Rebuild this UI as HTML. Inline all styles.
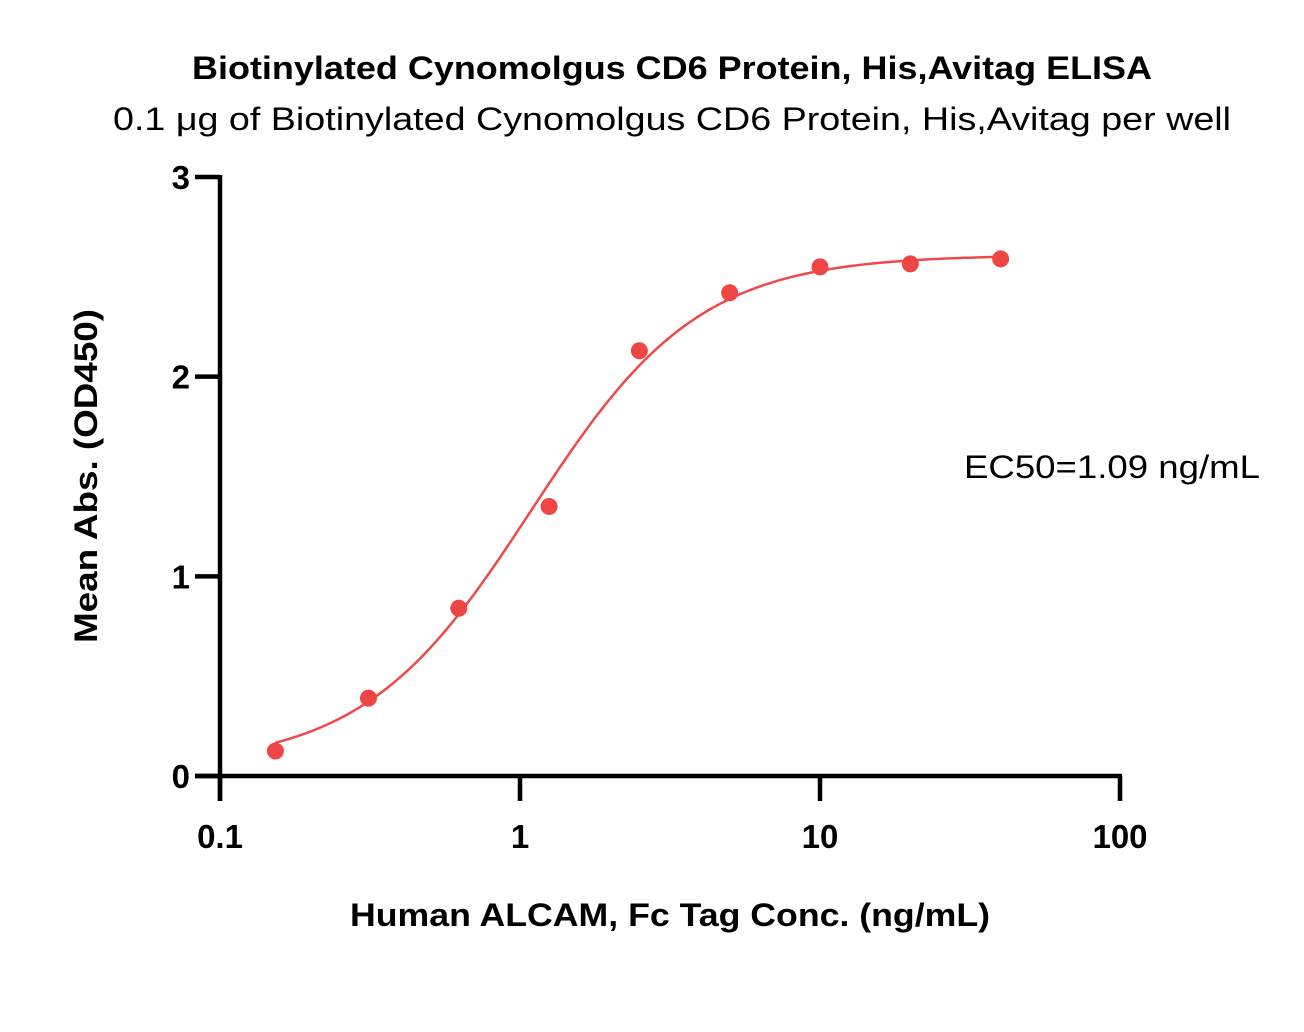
<!DOCTYPE html>
<html><head><meta charset="utf-8"><style>
html,body{margin:0;padding:0;background:#fff;}
svg{display:block;font-family:"Liberation Sans",sans-serif;}
</style></head><body>
<svg id="chart" width="1304" height="1032" viewBox="0 0 1304 1032">
<text x="672" y="79" text-anchor="middle" font-size="32" font-weight="bold" textLength="960" lengthAdjust="spacingAndGlyphs">Biotinylated Cynomolgus CD6 Protein, His,Avitag ELISA</text>
<text x="672" y="130" text-anchor="middle" font-size="32" textLength="1118" lengthAdjust="spacingAndGlyphs">0.1 μg of Biotinylated Cynomolgus CD6 Protein, His,Avitag per well</text>
<text x="670" y="926" text-anchor="middle" font-size="32" font-weight="bold" textLength="640" lengthAdjust="spacingAndGlyphs">Human ALCAM, Fc Tag Conc. (ng/mL)</text>
<text transform="translate(97,476) rotate(-90)" text-anchor="middle" font-size="32" font-weight="bold" textLength="334" lengthAdjust="spacingAndGlyphs">Mean Abs. (OD450)</text>
<text x="1112" y="478" text-anchor="middle" font-size="32" textLength="296" lengthAdjust="spacingAndGlyphs">EC50=1.09 ng/mL</text>
<g id="axes"></g>
<g id="curve"></g>
<g id="points"></g>
</svg>
<script>
const concentrations = [0.153, 0.3125, 0.625, 1.25, 2.5, 5, 10, 20, 40];
const absorbance = [0.125, 0.39, 0.84, 1.35, 2.13, 2.42, 2.55, 2.565, 2.59];
const xTicks = [0.1, 1, 10, 100];
const xTickLabels = ["0.1", "1", "10", "100"];
const yTicks = [0, 1, 2, 3];
const yTickLabels = ["0", "1", "2", "3"];
const fitBottom = 0.05, fitTop = 2.61, fitEC50 = 1.09, fitHill = 1.55;

const NS = "http://www.w3.org/2000/svg";
const X0 = 220, X1 = 1120, Y0 = 776, Y1 = 177;
function xs(v){ return X0 + (Math.log10(v) - Math.log10(0.1)) / 3 * (X1 - X0); }
function ys(v){ return Y0 - v / 3 * (Y0 - Y1); }
function mk(tag, attrs, parent){ const e = document.createElementNS(NS, tag); for (const k in attrs) e.setAttribute(k, attrs[k]); parent.appendChild(e); return e; }

const axes = document.getElementById("axes");
let l = mk("line", {x1:X0, y1:Y1-2, x2:X0, y2:Y0+25, stroke:"#000", "stroke-width":4.5}, axes);


l = mk("line", {x1:X0-25, y1:Y0, x2:X1+2, y2:Y0, stroke:"#000", "stroke-width":4.5}, axes);


xTicks.forEach((t, i) => {
  const x = xs(t);
  const tk = mk("line", {x1:x, y1:Y0, x2:x, y2:Y0+25, stroke:"#000", "stroke-width":4.5}, axes);
  
  
  const tx = mk("text", {x:x, y:Y0+72, "text-anchor":"middle", "font-size":33, "font-weight":"bold"}, axes);
  tx.textContent = xTickLabels[i];
  
  
});
yTicks.forEach((t, i) => {
  const y = ys(t);
  const tk = mk("line", {x1:X0-25, y1:y, x2:X0, y2:y, stroke:"#000", "stroke-width":4.5}, axes);
  
  
  const tx = mk("text", {x:X0-30, y:y+12, "text-anchor":"end", "font-size":33, "font-weight":"bold"}, axes);
  tx.textContent = yTickLabels[i];
  
  
});

function fit(c){ return fitBottom + (fitTop - fitBottom) / (1 + Math.pow(fitEC50 / c, fitHill)); }
let d = "";
const lo = Math.log10(concentrations[0]), hi = Math.log10(concentrations[concentrations.length-1]);
for (let i = 0; i <= 200; i++) {
  const c = Math.pow(10, lo + (hi - lo) * i / 200);
  d += (i ? "L" : "M") + xs(c).toFixed(2) + "," + ys(fit(c)).toFixed(2);
}
const p = mk("path", {d:d, fill:"none", stroke:"#f04848", "stroke-width":2.5}, document.getElementById("curve"));



const pts = document.getElementById("points");
concentrations.forEach((c, i) => {
  const ci = mk("circle", {cx:xs(c), cy:ys(absorbance[i]), r:8.5, fill:"#f04545"}, pts);
  
  
});
</script>
</body></html>
